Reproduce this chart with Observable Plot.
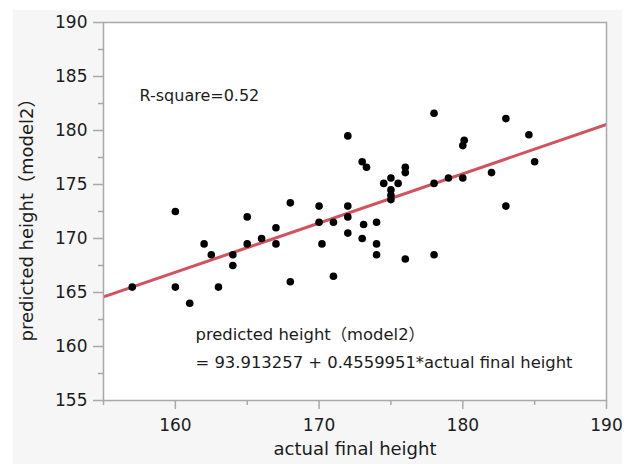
<!DOCTYPE html>
<html>
<head>
<meta charset="utf-8">
<script src="https://cdn.jsdelivr.net/npm/d3@7"></script>
<script src="https://cdn.jsdelivr.net/npm/@observablehq/plot@0.6"></script>
<style>
  body { margin: 0; background: #ffffff; }
  svg { display: block; }
</style>
</head>
<body>
<div id="chart"></div>
<script>
// Observed final heights and the heights predicted by model 2
const actualHeight = [
  157, 160, 160, 161, 162, 162.5, 163, 164, 164, 165, 165, 166, 167, 167, 168, 168,
  170, 170, 170.2, 171, 171, 172, 172, 172, 172, 173, 173.3, 173.1, 173,
  174, 174, 174, 174.5, 175, 175.5, 175, 175, 175, 176, 176, 176,
  178, 178, 178, 179, 180, 180, 180.1, 182, 183, 183, 184.6, 185
];
const predictedHeight = [
  165.5, 172.5, 165.5, 164, 169.5, 168.5, 165.5, 168.5, 167.5, 172, 169.5, 170, 171, 169.5, 173.3, 166,
  173, 171.5, 169.5, 171.5, 166.5, 179.5, 173, 172, 170.5, 177.1, 176.6, 171.3, 170,
  171.5, 169.5, 168.5, 175.1, 175.6, 175.1, 174.5, 174, 173.6, 176.6, 176.1, 168.1,
  181.6, 175.1, 168.5, 175.6, 175.6, 178.6, 179.1, 176.1, 181.1, 173, 179.6, 177.1
];

// Fitted model: predicted = intercept + slope * actual
const intercept = 93.913257;
const slope = 0.4559951;
const rSquare = 0.52;

// Axis ticks
const xMajorTicks = [160, 170, 180, 190];
const xMinorTicks = [155, 165, 175, 185];
const yMajorTicks = [155, 160, 165, 170, 175, 180, 185, 190];
const yMinorTicks = [157.5, 162.5, 167.5, 172.5, 177.5, 182.5, 187.5];
const domain = [155, 190];

const xTitle = "actual final height";
const yTitle = "predicted height（model2）";

const points = actualHeight.map((a, i) => ({actual: a, predicted: predictedHeight[i]}));
const fit = domain.map(x => ({actual: x, predicted: intercept + slope * x}));

const axisGray = "#a9a9a9";
const textColor = "#1c1c1c";

const chart = Plot.plot({
  width: 628,
  height: 464,
  marginLeft: 103,
  marginRight: 22,
  marginTop: 22,
  marginBottom: 64,
  style: {
    fontFamily: "'DejaVu Sans', 'Noto Sans CJK JP', sans-serif",
    fontSize: "17px",
    background: "transparent",
    color: textColor
  },
  x: {domain, label: null},
  y: {domain, label: null},
  marks: [
    Plot.frame({fill: "white", stroke: null}),
    Plot.axisX({ticks: xMajorTicks, tickSize: 9, tickPadding: 9, stroke: axisGray, strokeWidth: 1.5, fill: textColor, label: null}),
    Plot.axisX({ticks: xMinorTicks, tickSize: 5, tickFormat: () => "", stroke: axisGray, strokeWidth: 1.5, label: null}),
    Plot.axisY({ticks: yMajorTicks, tickSize: 10, tickPadding: 6, stroke: axisGray, strokeWidth: 1.5, fill: textColor, label: null}),
    Plot.axisY({ticks: yMinorTicks, tickSize: 5, tickFormat: () => "", stroke: axisGray, strokeWidth: 1.5, label: null}),
    Plot.line(fit, {x: "actual", y: "predicted", stroke: "#d3525f", strokeWidth: 3, clip: true}),
    Plot.dot(points, {x: "actual", y: "predicted", r: 3.8, fill: "black", stroke: null}),
    Plot.frame({stroke: axisGray, strokeWidth: 1.5}),
    Plot.text([`R-square=${rSquare.toFixed(2)}`], {
      frameAnchor: "top-left", dx: 36, dy: 73, textAnchor: "start", lineAnchor: "middle",
      fontSize: 16, fill: textColor
    }),
    Plot.text([yTitle], {
      frameAnchor: "bottom-left", dx: 92, dy: -66, textAnchor: "start", lineAnchor: "middle",
      fontSize: 16.4, fill: textColor
    }),
    Plot.text([`= ${intercept} + ${slope}*${xTitle}`], {
      frameAnchor: "bottom-left", dx: 92, dy: -38, textAnchor: "start", lineAnchor: "middle",
      fontSize: 16.4, fill: textColor
    }),
    Plot.text([xTitle], {frameAnchor: "bottom", dy: 49, lineAnchor: "middle", fontSize: 18, fill: textColor}),
    Plot.text([yTitle], {
      frameAnchor: "left", dx: -76, dy: 4, rotate: -90, textAnchor: "middle", lineAnchor: "middle",
      fontSize: 18, fill: textColor
    })
  ]
});

// light gray panel behind the whole chart
d3.select(chart)
  .insert("rect", ":first-child")
  .attr("x", 13)
  .attr("y", 10)
  .attr("width", 609)
  .attr("height", 454)
  .attr("fill", "#f6f6f6");

document.getElementById("chart").append(chart);
</script>
</body>
</html>
